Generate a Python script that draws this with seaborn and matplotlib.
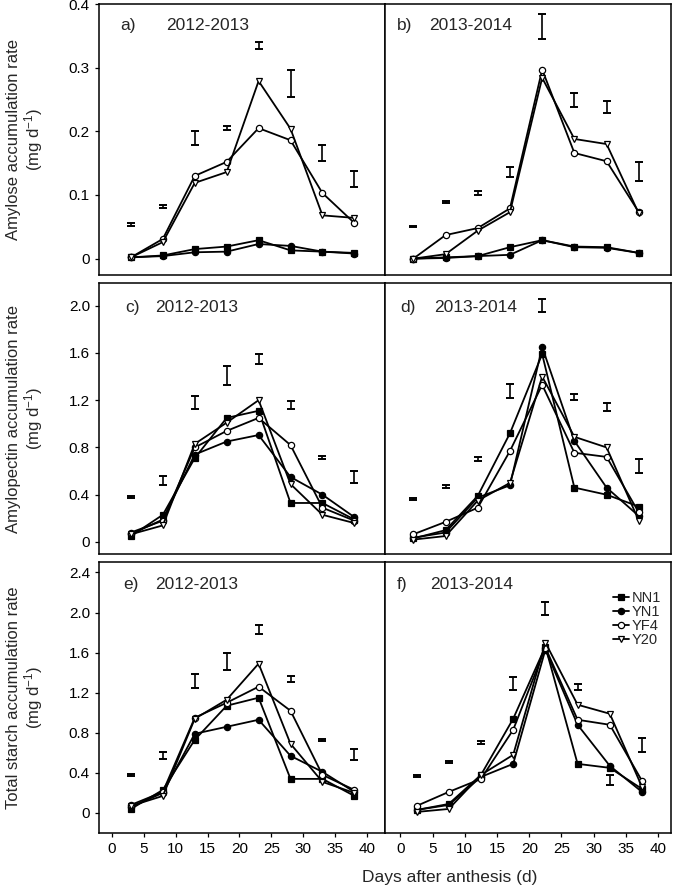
import matplotlib
matplotlib.use("Agg")
import matplotlib.pyplot as plt
import numpy as np
import pandas as pd
import seaborn as sns

# Days after anthesis for each season
days_1213 = [3, 8, 13, 18, 23, 28, 33, 38]
days_1314 = [2, 7, 12, 17, 22, 27, 32, 37]
days_1314_f = [2.5, 7.5, 12.5, 17.5, 22.5, 27.5, 32.5, 37.5]

genotypes = ["NN1", "YN1", "YF4", "Y20"]

# Amylose accumulation rate (mg d-1)
amylose_1213 = {
    "NN1": [0.002, 0.005, 0.015, 0.019, 0.029, 0.013, 0.011, 0.009],
    "YN1": [0.002, 0.004, 0.010, 0.011, 0.023, 0.020, 0.011, 0.008],
    "YF4": [0.002, 0.031, 0.130, 0.152, 0.205, 0.186, 0.103, 0.056],
    "Y20": [0.002, 0.026, 0.119, 0.136, 0.279, 0.204, 0.068, 0.064],
}
amylose_1213_lsd = [0.054, 0.082, 0.190, 0.205, 0.335, 0.275, 0.166, 0.125]
amylose_1213_half = [0.002, 0.002, 0.011, 0.003, 0.006, 0.021, 0.013, 0.013]

amylose_1314 = {
    "NN1": [0.000, 0.002, 0.004, 0.018, 0.029, 0.019, 0.018, 0.009],
    "YN1": [0.000, 0.001, 0.004, 0.006, 0.029, 0.018, 0.017, 0.009],
    "YF4": [0.000, 0.037, 0.048, 0.079, 0.297, 0.166, 0.153, 0.073],
    "Y20": [0.000, 0.007, 0.044, 0.073, 0.284, 0.188, 0.180, 0.071],
}
amylose_1314_lsd = [0.051, 0.089, 0.103, 0.136, 0.365, 0.249, 0.238, 0.137]
amylose_1314_half = [0.001, 0.002, 0.003, 0.008, 0.020, 0.0115, 0.009, 0.015]

# Amylopectin accumulation rate (mg d-1)
amylopectin_1213 = {
    "NN1": [0.05, 0.23, 0.71, 1.05, 1.11, 0.33, 0.33, 0.19],
    "YN1": [0.065, 0.19, 0.74, 0.85, 0.905, 0.55, 0.40, 0.21],
    "YF4": [0.08, 0.18, 0.80, 0.94, 1.05, 0.82, 0.29, 0.18],
    "Y20": [0.065, 0.14, 0.83, 1.01, 1.20, 0.49, 0.23, 0.16],
}
amylopectin_1213_lsd = [0.38, 0.52, 1.18, 1.41, 1.545, 1.16, 0.716, 0.55]
amylopectin_1213_half = [0.01, 0.042, 0.056, 0.08, 0.042, 0.035, 0.013, 0.047]

amylopectin_1314 = {
    "NN1": [0.03, 0.10, 0.39, 0.92, 1.59, 0.46, 0.40, 0.30],
    "YN1": [0.036, 0.08, 0.375, 0.48, 1.65, 0.855, 0.46, 0.22],
    "YF4": [0.065, 0.17, 0.29, 0.77, 1.33, 0.755, 0.72, 0.25],
    "Y20": [0.02, 0.05, 0.35, 0.50, 1.40, 0.89, 0.80, 0.18],
}
amylopectin_1314_lsd = [0.366, 0.47, 0.70, 1.28, 2.0, 1.23, 1.14, 0.64]
amylopectin_1314_half = [0.01, 0.012, 0.015, 0.06, 0.056, 0.025, 0.035, 0.06]

# Total starch accumulation rate (mg d-1)
starch_1213 = {
    "NN1": [0.04, 0.23, 0.73, 1.07, 1.15, 0.34, 0.34, 0.17],
    "YN1": [0.06, 0.20, 0.79, 0.86, 0.93, 0.57, 0.41, 0.21],
    "YF4": [0.08, 0.21, 0.95, 1.10, 1.26, 1.02, 0.38, 0.23],
    "Y20": [0.07, 0.17, 0.94, 1.13, 1.49, 0.69, 0.31, 0.20],
}
starch_1213_lsd = [0.38, 0.57, 1.32, 1.51, 1.83, 1.34, 0.73, 0.58]
starch_1213_half = [0.01, 0.035, 0.07, 0.083, 0.045, 0.03, 0.012, 0.055]

starch_1314 = {
    "NN1": [0.03, 0.09, 0.38, 0.94, 1.66, 0.49, 0.45, 0.24],
    "YN1": [0.03, 0.08, 0.36, 0.49, 1.63, 0.88, 0.47, 0.21],
    "YF4": [0.07, 0.21, 0.34, 0.83, 1.65, 0.93, 0.88, 0.32],
    "Y20": [0.01, 0.04, 0.38, 0.58, 1.70, 1.08, 0.99, 0.26],
}
starch_1314_lsd = [0.37, 0.51, 0.70, 1.29, 2.04, 1.26, 0.33, 0.68]
starch_1314_half = [0.01, 0.012, 0.015, 0.063, 0.067, 0.03, 0.05, 0.067]

row_labels = [
    "Amylose accumulation rate\n(mg d$^{-1}$)",
    "Amylopectin accumulation rate\n(mg d$^{-1}$)",
    "Total starch accumulation rate\n(mg d$^{-1}$)",
]
row_ticks = [[0, 0.1, 0.2, 0.3, 0.4],
             [0, 0.4, 0.8, 1.2, 1.6, 2.0],
             [0, 0.4, 0.8, 1.2, 1.6, 2.0, 2.4]]
row_ticklabels = [["0", "0.1", "0.2", "0.3", "0.4"],
                  ["0", "0.4", "0.8", "1.2", "1.6", "2.0"],
                  ["0", "0.4", "0.8", "1.2", "1.6", "2.0", "2.4"]]
row_ylims = [(-0.025, 0.4), (-0.1, 2.19), (-0.2, 2.5)]
panel_letters = [["a)", "b)"], ["c)", "d)"], ["e)", "f)"]]
seasons = ["2012-2013", "2013-2014"]

panels = [
    [(days_1213, amylose_1213, amylose_1213_lsd, amylose_1213_half),
     (days_1314, amylose_1314, amylose_1314_lsd, amylose_1314_half)],
    [(days_1213, amylopectin_1213, amylopectin_1213_lsd, amylopectin_1213_half),
     (days_1314, amylopectin_1314, amylopectin_1314_lsd, amylopectin_1314_half)],
    [(days_1213, starch_1213, starch_1213_lsd, starch_1213_half),
     (days_1314_f, starch_1314, starch_1314_lsd, starch_1314_half)],
]

styles = {
    "NN1": dict(marker="s", markerfacecolor="black"),
    "YN1": dict(marker="o", markerfacecolor="black"),
    "YF4": dict(marker="o", markerfacecolor="white"),
    "Y20": dict(marker="v", markerfacecolor="white"),
}

sns.set_style("ticks")
plt.rcParams["font.family"] = ["Liberation Sans", "DejaVu Sans"]
plt.rcParams["mathtext.default"] = "regular"

fig, axes = plt.subplots(3, 2, figsize=(6.75, 8.88), dpi=100)
fig.subplots_adjust(left=99 / 675, right=671 / 675, top=1 - 4 / 888,
                    bottom=1 - 833 / 888, wspace=0, hspace=0.032)

for r in range(3):
    for c in range(2):
        ax = axes[r, c]
        days, rates, lsd, half = panels[r][c]
        for g in genotypes:
            sns.lineplot(x=days, y=rates[g], ax=ax, color="black", linewidth=1.3,
                         markersize=4.5, markeredgecolor="black", markeredgewidth=0.9,
                         errorbar=None, label=g, **styles[g])
        ax.errorbar(days, lsd, yerr=half, fmt="none", ecolor="black",
                    elinewidth=1.2, capsize=2.6, capthick=1.4)
        if ax.get_legend() is not None:
            ax.get_legend().remove()

        ax.set_ylim(*row_ylims[r])
        ax.set_xlim(-2.0, 42.8) if c == 0 else ax.set_xlim(-2.4, 42.0)
        ax.set_xticks(np.arange(0, 41, 5))
        for s in ax.spines.values():
            s.set_linewidth(1.1)
            s.set_color("black")
        ax.tick_params(direction="out", length=3, width=0.9, labelsize=11, colors="black")

        if c == 0:
            ax.set_yticks(row_ticks[r])
            ax.set_yticklabels(row_ticklabels[r])
            ax.set_ylabel(row_labels[r], fontsize=12, linespacing=1.05)
            ax.yaxis.set_label_coords(-0.19, 0.5)
        else:
            ax.set_yticks([])
            ax.set_ylabel("")
        if r < 2:
            ax.tick_params(axis="x", bottom=False, labelbottom=False)
        ax.set_xlabel("")

        ty = [0.922, 0.909, 0.919][r]
        if c == 0:
            lx, sx = [0.073, 0.091, 0.085][r], [0.234, 0.196, 0.196][r]
        else:
            lx, sx = [0.042, 0.055, 0.042][r], [0.155, 0.171, 0.157][r]
        ax.text(lx, ty, panel_letters[r][c], transform=ax.transAxes,
                fontsize=12.5, va="center", ha="left")
        ax.text(sx, ty, seasons[c], transform=ax.transAxes,
                fontsize=12.5, va="center", ha="left")

# Legend in panel f
axes[2, 1].legend(loc="upper right", bbox_to_anchor=(0.965, 0.895), frameon=False,
                  fontsize=10.5, labelspacing=0.0, handlelength=1.1,
                  handletextpad=0.15, borderpad=0, borderaxespad=0)

fig.text(450 / 675, 1 - 877 / 888, "Days after anthesis (d)", ha="center",
         va="center", fontsize=12.5)

fig.savefig("out.png", dpi=100)
